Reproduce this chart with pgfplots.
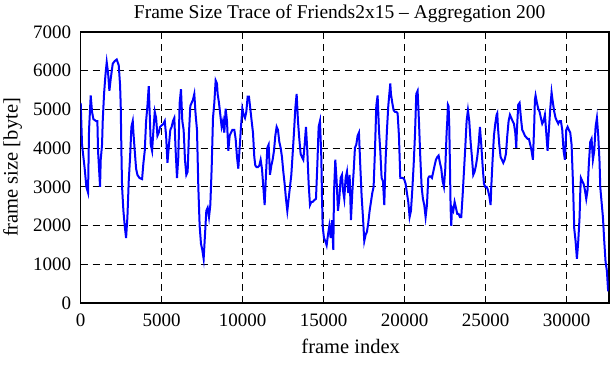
\documentclass[border=0pt]{standalone}
\usepackage{fontspec}
\setmainfont{Liberation Serif}
\usepackage{pgfplots}
\pgfplotsset{compat=1.18}
\begin{document}
\begin{tikzpicture}
\begin{axis}[
  scale only axis, width=528pt, height=271pt,
  xmin=0, xmax=32600, ymin=0, ymax=7000,
  xtick={0,5000,10000,15000,20000,25000,30000},
  ytick={0,1000,2000,3000,4000,5000,6000,7000},
  scaled x ticks=false, scaled y ticks=false,
  xtick pos=both, ytick pos=both,
  xticklabel pos=bottom, yticklabel pos=left,
  grid=major,
  grid style={black, line width=0.8pt, dash pattern=on 7pt off 5pt},
  axis line style={black, line width=1.6pt},
  tick style={black, line width=1.2pt}, tick align=inside, major tick length=7pt,
  /pgf/number format/.cd, 1000 sep={}, assume math mode=true, /pgfplots/.cd,
  tick label style={font=\fontsize{19}{22}\selectfont},
  x tick label style={yshift=-7pt},
  y tick label style={xshift=-6pt},
  title style={font=\fontsize{19.5}{22}\selectfont, xshift=-5pt},
  title={Frame Size Trace of Friends2x15 – Aggregation 200},
  every axis x label/.style={at={(axis description cs:0.5,0)}, yshift=-43pt, xshift=6pt, anchor=center, font=\fontsize{20.5}{23}\selectfont},
  every axis y label/.style={at={(axis description cs:0,0.5)}, xshift=-68pt, rotate=90, anchor=center, font=\fontsize{20.5}{23}\selectfont},
  xlabel={frame index}, ylabel={frame size [byte]},
]
\addplot[blue, line width=2pt] coordinates {
(0,5170)(82,4090)(247,3470)(350,3000)(453,2850)(515,4470)(618,5360)(700,4940)(783,4750)(948,4700)
(1030,4700)(1071,3930)(1133,3470)(1195,3000)(1236,3700)(1318,4090)(1360,4700)(1442,5400)(1524,5870)(1607,6220)
(1689,5950)(1772,5480)(1854,5790)(1978,6180)(2101,6250)(2225,6290)(2348,6140)(2431,5630)(2472,5090)(2513,3930)
(2554,3000)(2637,2380)(2719,1990)(2802,1680)(2884,2220)(2966,3150)(3049,3770)(3131,4550)(3214,4700)(3255,4400)
(3337,3930)(3420,3470)(3502,3310)(3626,3230)(3790,3200)(3873,3620)(3955,3930)(4038,4700)(4120,5090)(4202,5600)
(4244,5090)(4326,4090)(4408,3930)(4491,4470)(4573,4940)(4656,4780)(4738,4320)(4820,4400)(4903,4550)(5109,4630)
(5191,4700)(5274,4320)(5356,3620)(5451,4090)(5533,4470)(5616,4550)(5698,4700)(5780,4780)(5863,3930)(5945,3230)
(6027,3770)(6110,5170)(6192,5520)(6274,4700)(6356,4470)(6439,3700)(6521,3310)(6603,3390)(6686,4400)(6768,5090)
(6850,5170)(6933,5250)(7015,5400)(7097,4860)(7180,4470)(7262,3000)(7344,1990)(7427,1530)(7509,1370)(7591,1140)
(7674,1760)(7756,2380)(7838,2460)(7921,2220)(8003,2530)(8085,3470)(8168,4780)(8250,5170)(8332,5750)(8414,5670)
(8456,5400)(8538,5170)(8620,4860)(8703,4550)(8785,4700)(8867,4400)(8950,5020)(9032,4700)(9114,3930)(9197,4320)
(9279,4400)(9361,4470)(9485,4470)(9567,4240)(9649,3770)(9732,3470)(9814,4010)(9896,4550)(9979,5020)(10061,4860)
(10143,4780)(10226,4940)(10308,5330)(10390,5330)(10472,5020)(10555,4700)(10637,4400)(10719,3770)(10781,3550)(10863,3510)
(10945,3510)(11028,3550)(11110,3700)(11192,3470)(11275,3000)(11357,2530)(11439,3310)(11522,4010)(11604,4090)(11686,3310)
(11769,3550)(11851,3700)(11933,3930)(12016,4320)(12098,4550)(12180,4470)(12263,4160)(12345,4010)(12427,3770)(12510,3390)
(12592,3080)(12674,2690)(12757,2380)(12839,2690)(12921,3000)(13004,3310)(13086,3850)(13168,4400)(13250,5020)(13333,5400)
(13415,4700)(13497,4240)(13580,3850)(13662,3770)(13744,3700)(13827,4090)(13909,4550)(13991,3930)(14074,3080)(14156,2530)
(14238,2610)(14321,2610)(14403,2650)(14526,2690)(14609,3550)(14691,4550)(14773,4700)(14856,3770)(14897,2770)(14938,1990)
(15020,1680)(15103,1600)(15185,1490)(15267,1760)(15350,1990)(15432,1680)(15514,2140)(15597,1370)(15638,2840)(15720,3700)
(15802,3150)(15885,2380)(15967,2690)(16049,3230)(16132,3310)(16192,2920)(16274,2690)(16357,3230)(16439,3390)(16521,2840)
(16604,3310)(16686,2140)(16768,2840)(16851,3390)(16933,4010)(17015,4090)(17097,4320)(17180,4400)(17262,3550)(17344,2770)
(17427,2220)(17509,1600)(17591,1760)(17674,1840)(17756,2070)(17838,2380)(17921,2610)(18003,2840)(18085,3000)(18168,3930)
(18250,5090)(18332,5360)(18415,4470)(18497,3930)(18579,3230)(18662,3150)(18744,2530)(18826,3700)(18909,4470)(18991,5090)
(19073,5480)(19114,5670)(19155,5400)(19238,5170)(19320,4980)(19402,4940)(19485,4940)(19567,4900)(19649,4320)(19732,3230)
(19814,3230)(19896,3230)(19979,3190)(20061,3080)(20143,2840)(20226,2610)(20308,2220)(20390,2380)(20473,2920)(20555,3550)
(20637,4320)(20720,5400)(20802,5480)(20884,4700)(20967,3770)(21049,3000)(21131,2690)(21213,2530)(21296,2220)(21378,2530)
(21460,3230)(21522,3270)(21604,3270)(21686,3230)(21769,3390)(21851,3550)(21933,3700)(22016,3770)(22098,3810)(22180,3620)
(22263,3470)(22345,3150)(22427,3000)(22510,3470)(22592,4400)(22633,4700)(22674,5120)(22715,5080)(22757,4550)(22798,3550)
(22839,2460)(22880,1990)(22921,2460)(23004,2380)(23086,2610)(23168,2460)(23250,2300)(23333,2300)(23415,2220)(23497,2220)
(23580,2770)(23662,3390)(23744,4010)(23827,4700)(23909,4980)(23991,4700)(24074,4160)(24156,3770)(24238,3310)(24321,3390)
(24403,3550)(24485,3770)(24568,4090)(24650,4550)(24732,4090)(24815,3550)(24897,3080)(24979,3000)(25062,3000)(25144,2920)
(25226,2770)(25309,2530)(25350,3000)(25432,3700)(25514,4320)(25597,4630)(25679,4860)(25720,4900)(25761,4550)(25844,4090)
(25926,3770)(26008,3700)(26091,3620)(26173,3700)(26255,3850)(26338,4320)(26420,4700)(26502,4860)(26585,4780)(26667,4700)
(26749,4630)(26832,4400)(26892,4010)(26933,4470)(27015,5120)(27098,5170)(27180,4780)(27262,4470)(27345,4400)(27427,4320)
(27509,4280)(27592,4240)(27674,4240)(27756,4090)(27838,3930)(27921,3700)(28003,4630)(28044,5250)(28085,5360)(28168,5170)
(28250,5020)(28332,4940)(28415,4780)(28497,4630)(28579,4700)(28662,4860)(28744,4400)(28826,3930)(28909,4470)(28991,5020)
(29073,5440)(29156,5170)(29238,4940)(29320,4780)(29403,4700)(29485,4630)(29567,4700)(29650,4700)(29732,4470)(29814,3930)
(29896,3700)(29979,4470)(30061,4550)(30143,4470)(30226,4400)(30308,4090)(30390,3150)(30432,2530)(30473,1920)(30555,1600)
(30637,1140)(30720,1600)(30802,2220)(30843,2840)(30884,3230)(30967,3150)(31049,3080)(31131,2920)(31214,2690)(31296,2920)
(31378,3620)(31461,4160)(31543,4240)(31625,3700)(31708,3930)(31790,4550)(31872,4780)(31955,4320)(32037,3620)(32078,3000)
(32160,2610)(32243,2220)(32325,1600)(32407,1060)(32489,830)(32551,400)(32572,300)
};
\end{axis}
\pgfresetboundingbox
\path (current axis.south west) ++(-80.7pt,-77pt) rectangle ++(611pt,380pt);
\end{tikzpicture}
\end{document}
